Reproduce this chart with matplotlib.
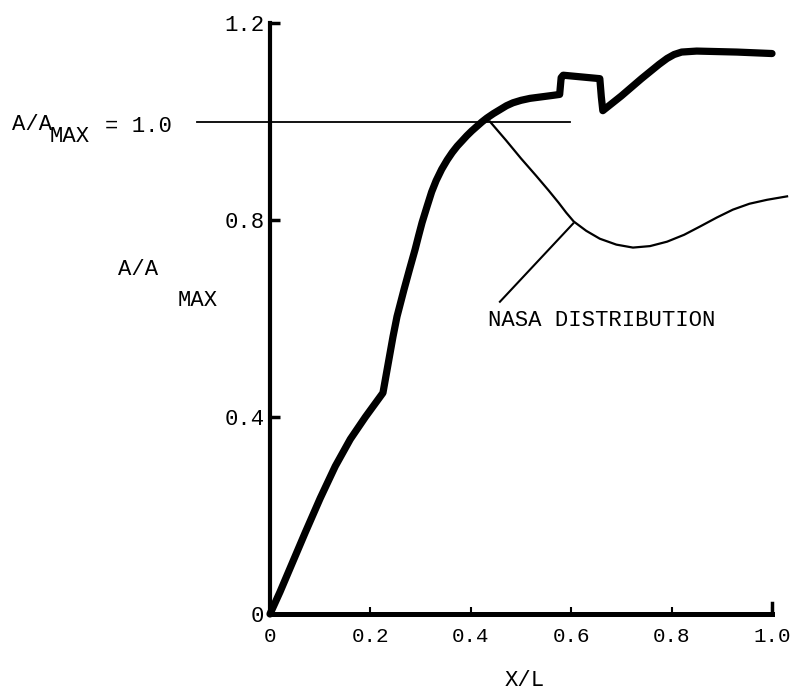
import matplotlib
matplotlib.use("Agg")
import matplotlib.pyplot as plt

plt.rcParams['font.family'] = ['Liberation Mono', 'DejaVu Sans Mono']

# Area distribution (thick curve), read point by point
area_x = [0.0, 0.02, 0.045, 0.07, 0.10, 0.13, 0.16, 0.19, 0.21, 0.225,
          0.235, 0.245, 0.253, 0.267, 0.278, 0.289, 0.296, 0.303, 0.313,
          0.322, 0.331, 0.342, 0.353, 0.363, 0.373, 0.383, 0.392, 0.402,
          0.412, 0.422, 0.432, 0.445, 0.458, 0.471, 0.484, 0.50, 0.518,
          0.533, 0.548, 0.563, 0.577, 0.580, 0.584, 0.657, 0.660, 0.663,
          0.70, 0.74, 0.775, 0.791, 0.805, 0.82, 0.85, 0.93, 1.0]
area_y = [0.0, 0.045, 0.105, 0.165, 0.235, 0.30, 0.355, 0.40, 0.428, 0.449,
          0.506, 0.563, 0.604, 0.659, 0.70, 0.740, 0.768, 0.795, 0.828,
          0.857, 0.880, 0.903, 0.922, 0.937, 0.950, 0.961, 0.971, 0.981,
          0.990, 0.999, 1.007, 1.016, 1.024, 1.032, 1.038, 1.043, 1.047,
          1.049, 1.051, 1.053, 1.055, 1.089, 1.094, 1.087, 1.05, 1.022,
          1.052, 1.087, 1.116, 1.128, 1.136, 1.141, 1.143, 1.141, 1.138]

# NASA distribution (thin curve)
nasa_x = [0.438, 0.47, 0.50, 0.53, 0.555, 0.575, 0.59, 0.605, 0.63, 0.657,
          0.69, 0.723, 0.757, 0.791, 0.825, 0.857, 0.89, 0.922, 0.955,
          0.99, 1.03]
nasa_y = [1.0, 0.962, 0.925, 0.89, 0.86, 0.835, 0.815, 0.797, 0.778, 0.762,
          0.75, 0.744, 0.747, 0.756, 0.77, 0.787, 0.805, 0.821, 0.833,
          0.841, 0.848]

x_ticks = [0.0, 0.2, 0.4, 0.6, 0.8, 1.0]
x_tick_labels = ['0', '0.2', '0.4', '0.6', '0.8', '1.0']
y_ticks = [0.0, 0.4, 0.8, 1.2]
y_tick_labels = ['0', '0.4', '0.8', '1.2']

W, H = 792, 694
fig = plt.figure(figsize=(W / 100, H / 100), dpi=100)


def px(x, y):
    # pixel position (from top-left) -> figure fraction
    return x / W, 1 - y / H


ax = fig.add_axes([270 / W, 1 - 614 / H, 502 / W, 591 / H])
ax.set_xlim(0, 1.0)
ax.set_ylim(0, 1.2)

for side in ('top', 'right'):
    ax.spines[side].set_visible(False)
ax.spines['left'].set_linewidth(3.0)
ax.spines['bottom'].set_linewidth(3.6)

ax.set_xticks(x_ticks)
ax.set_xticklabels(x_tick_labels)
ax.set_yticks(y_ticks)
ax.set_yticklabels(y_tick_labels)
ax.tick_params(axis='x', direction='in', length=5, width=1.5, pad=9, labelsize=15)
ax.tick_params(axis='y', direction='in', length=7, width=2.5, pad=4, labelsize=16)

# taller end mark at X/L = 1.0
ax.plot([1.0, 1.0], [0.0, 0.022], color='black', lw=2.5, clip_on=False)

# reference level A/A_MAX = 1.0
ax.plot([-0.145, 0.598], [1.0, 1.0], color='black', lw=1.3,
        clip_on=False, zorder=3)

ax.plot(area_x, area_y, color='black', lw=5.2, solid_joinstyle='round',
        solid_capstyle='round', clip_on=False, zorder=4)
ax.plot(nasa_x, nasa_y, color='black', lw=1.6, solid_joinstyle='round',
        clip_on=False, zorder=4)

# leader line to the NASA curve
ax.plot([0.458, 0.604], [0.634, 0.793], color='black', lw=1.5, zorder=4)

fs = 16
fig.text(*px(12, 125), 'A/A', fontsize=fs, va='center', ha='left')
fig.text(*px(50, 137), 'MAX', fontsize=fs, va='center', ha='left')
fig.text(*px(105, 127), '= 1.0', fontsize=fs, va='center', ha='left')

fig.text(*px(118, 270), 'A/A', fontsize=fs, va='center', ha='left')
fig.text(*px(178, 300), 'MAX', fontsize=fs, va='center', ha='left')

fig.text(*px(488, 320), 'NASA DISTRIBUTION', fontsize=fs, va='center', ha='left')
fig.text(*px(525, 680), 'X/L', fontsize=fs, va='center', ha='center')

fig.savefig('out.png', dpi=100)
